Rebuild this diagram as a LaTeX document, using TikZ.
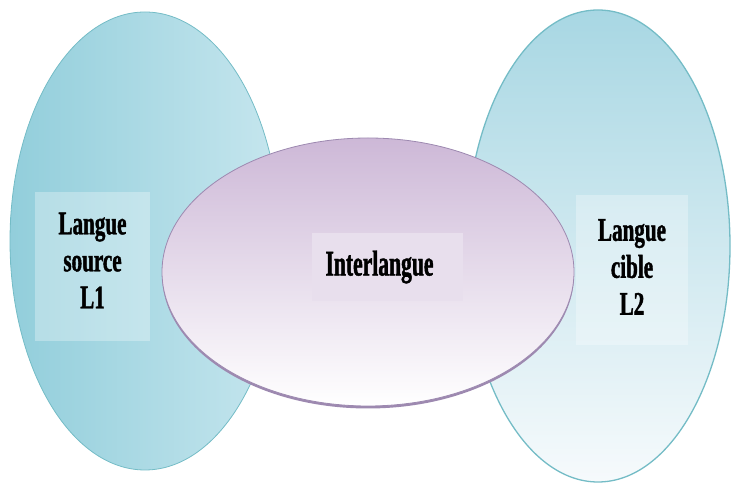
\documentclass[tikz,border=0pt]{standalone}
\usepackage{fontspec}
\setmainfont{Liberation Serif}
\newfontfamily\boxfont[FakeStretch=0.64, FakeBold=1.2]{Liberation Serif}
\newfontfamily\midfont[FakeStretch=0.6, FakeBold=1.2]{Liberation Serif}
\usetikzlibrary{positioning}
\definecolor{leftdark}{HTML}{92CEDB}
\definecolor{leftlight}{HTML}{C6E6EE}
\definecolor{rightdark}{HTML}{A8D7E3}
\definecolor{rightlight}{HTML}{F6FAFC}
\definecolor{tealline}{HTML}{74BCC6}
\definecolor{lilac}{HTML}{CDB8D7}
\definecolor{lilacline}{HTML}{9D89B0}
\tikzset{
  langbox/.style={fill=white, fill opacity=0.3, inner sep=0pt},
  langtext/.style={align=center, inner sep=0pt, font=\boxfont\bfseries\fontsize{33}{37}\selectfont},
  midbox/.style={fill=#1, inner sep=0pt},
  midtext/.style={inner sep=0pt, font=\midfont\bfseries\fontsize{36}{40}\selectfont}
}
\begin{document}
\begin{tikzpicture}[x=1pt,y=1pt]
\useasboundingbox (0,0) rectangle (732,486);
\shade[left color=leftdark, right color=leftlight, draw=tealline, line width=0.8pt]
  (145,245) node (src) {} ellipse (135 and 229);
\shade[top color=rightdark, bottom color=rightlight, draw=tealline, line width=1.3pt]
  (598,240) node (tgt) {} ellipse (132 and 236);
\fill[lilacline] (368,211.5) ellipse (206 and 134);
\shade[top color=lilac, bottom color=white, draw=lilacline, line width=0.8pt]
  (368,214) node (inter) {} ellipse (206 and 134);
% boites de texte
\node[langbox, minimum width=115pt, minimum height=149pt] (srcbox) at (92.5,219.5) {};
\node[langtext, yshift=6pt] (srctext) at (srcbox.center) {Langue\\source\\L1};
\node[midbox=lilac!45!white, minimum width=151pt, minimum height=68pt] (interbox) at (387.5,219) {};
\node[midtext, xshift=-8pt] (intertext) at (interbox.center) {Interlangue};
\node[langbox, minimum width=112pt, minimum height=150pt] (tgtbox) at (632,216) {};
\node[langtext, yshift=3pt] (tgttext) at (tgtbox.center) {Langue\\cible\\L2};
\end{tikzpicture}
\end{document}
